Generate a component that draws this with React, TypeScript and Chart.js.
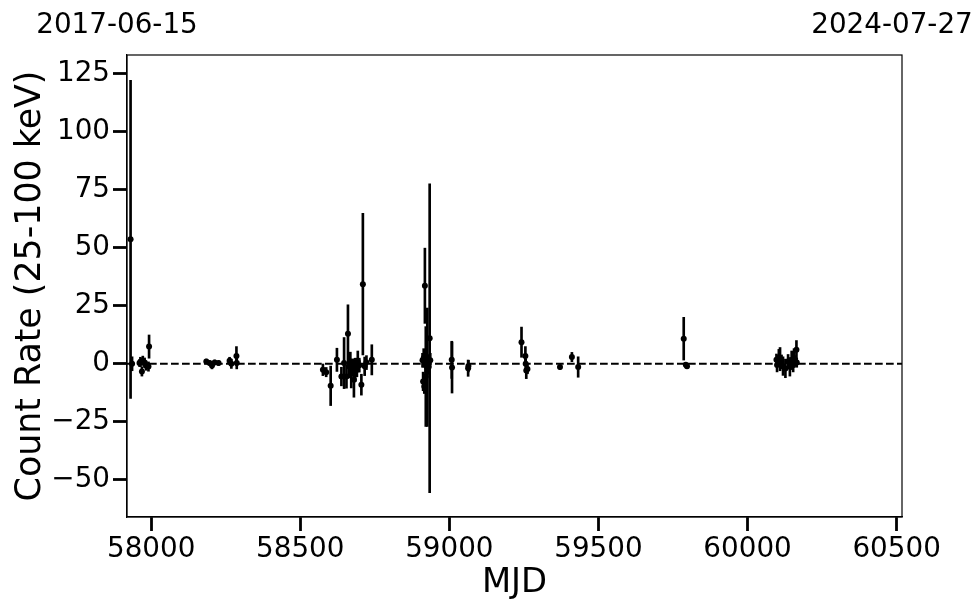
import React, { useEffect, useRef } from 'react';
import { Chart, registerables } from 'chart.js';

Chart.register(...registerables);

// Observation times (MJD)
const mjd = [
  57931, 57936, 57961, 57964, 57969, 57972, 57978, 57983, 57991, 57993,
  58185, 58196, 58204, 58213, 58226, 58263, 58269, 58286, 58287,
  58576, 58587, 58602, 58623, 58638, 58647, 58655, 58660, 58663, 58668, 58671,
  58676, 58680, 58684, 58690, 58693, 58698, 58705, 58710, 58716, 58722, 58740,
  58910, 58912, 58914, 58916, 58918, 58920, 58921, 58924, 58926, 58930, 58934, 58936,
  59008, 59009, 59063, 59064,
  59242, 59255, 59256, 59258, 59262,
  59371, 59411, 59432,
  59786, 59793, 59797,
  60097, 60099, 60105, 60109, 60114, 60119, 60127, 60136, 60142, 60148, 60153, 60156, 60164, 60165,
];

// Count rate (25-100 keV)
const rate = [
  53.6, 0.0, 0.3, 0.8, -3.3, 1.3, 0.5, -0.8, -1.2, 7.4,
  1.0, 0.3, -0.7, 0.6, 0.3, 1.3, 0.0, 3.4, 0.3,
  -2.6, -3.6, -9.5, 1.7, -5.5, 0.3, -5.5, 12.9, -1.1, 1.0, -4.4,
  -0.9, -6.9, -2.6, -1.6, 1.0, -0.6, -9.0, 34.3, -1.1, 0.5, 1.7,
  1.5, -7.6, 2.5, -9.8, 33.6, 0.3, -5.5, 3.0, -1.5, -1.6, 11.0, 1.5,
  1.7, -1.6, -1.9, -1.0,
  9.3, 3.4, 0.0, -2.9, -2.3,
  -1.4, 2.9, -1.4,
  10.8, -0.4, -1.1,
  1.7, -0.5, 2.7, 2.0, 0.8, -1.0, -2.0, 1.0, -1.3, 1.5, -0.5, 2.5, 6.0, 0.5,
];

// 1-sigma uncertainties
const rateErr = [
  68.5, 3.0, 1.5, 2.0, 2.0, 2.0, 2.0, 2.0, 2.0, 5.0,
  1.0, 1.0, 1.5, 1.0, 1.0, 1.5, 2.0, 4.0, 2.5,
  2.5, 2.0, 8.5, 5.0, 4.0, 11.0, 5.0, 12.5, 5.0, 4.0, 6.0,
  3.0, 7.5, 5.0, 4.0, 4.5, 3.0, 4.5, 30.5, 4.0, 3.0, 6.5,
  3.0, 4.0, 4.0, 3.0, 16.2, 5.0, 21.5, 6.0, 25.5, 3.0, 66.5, 3.0,
  8.0, 11.0, 3.5, 2.5,
  6.5, 4.0, 2.0, 3.5, 2.0,
  1.0, 2.0, 4.4,
  9.2, 1.0, 1.0,
  2.5, 3.0, 3.5, 5.0, 3.0, 4.0, 4.0, 3.0, 4.0, 4.0, 3.0, 4.0, 4.0, 2.0,
];

const xTicks = [58000, 58500, 59000, 59500, 60000, 60500];
const yTicks = [-50, -25, 0, 25, 50, 75, 100, 125];
const topTickMjd = [57919, 60518];
const topTickLabels = ['2017-06-15', '2024-07-27'];
const xMin = 57919;
const xMax = 60518;
const yMin = -66;
const yMax = 133;

const FONT = 'DejaVu Sans';

const framePlugin = {
  id: 'frame',
  afterDraw(chart: any) {
    const { ctx, chartArea } = chart;
    const { left, top, right, bottom } = chartArea;
    ctx.save();
    ctx.strokeStyle = '#000';
    ctx.lineWidth = 1.2;
    ctx.strokeRect(left, top, right - left, bottom - top);
    ctx.restore();
  },
};

const noPad = (s: any) => {
  s.paddingLeft = 0;
  s.paddingRight = 0;
  s.paddingTop = 0;
  s.paddingBottom = 0;
};

export default function App() {
  const canvasRef = useRef<HTMLCanvasElement | null>(null);

  useEffect(() => {
    if (!canvasRef.current) return;
    const errData = mjd.map((m, i) => ({ x: m, y: [rate[i] - rateErr[i], rate[i] + rateErr[i]] }));
    const ptData = mjd.map((m, i) => ({ x: m, y: rate[i] }));
    const zeroData = [
      { x: xMin, y: 0 },
      { x: xMax, y: 0 },
    ];

    const tickGrid = {
      display: true,
      drawOnChartArea: false,
      drawTicks: true,
      tickLength: 14,
      tickWidth: 2.8,
      tickColor: '#000',
      offset: false,
    };

    const chart = new Chart(canvasRef.current, {
      type: 'scatter',
      data: {
        datasets: [
          {
            type: 'line',
            data: zeroData,
            borderColor: '#000',
            borderWidth: 2,
            borderDash: [7.7, 3.3],
            pointRadius: 0,
            fill: false,
            order: 3,
            xAxisID: 'x',
            yAxisID: 'y',
          } as any,
          {
            type: 'bar',
            data: errData,
            backgroundColor: '#000',
            borderWidth: 0,
            barThickness: 2,
            order: 2,
            xAxisID: 'x',
            yAxisID: 'y',
          } as any,
          {
            type: 'scatter',
            data: ptData,
            backgroundColor: '#000',
            borderColor: '#000',
            borderWidth: 0,
            pointRadius: 3,
            showLine: false,
            order: 1,
            xAxisID: 'x',
            yAxisID: 'y',
          } as any,
        ],
      },
      options: {
        responsive: false,
        devicePixelRatio: 1,
        animation: false,
        layout: { padding: { left: 0, right: 78, top: 0, bottom: 0 } },
        plugins: {
          legend: { display: false },
          tooltip: { enabled: false },
        },
        scales: {
          x: {
            type: 'linear',
            position: 'bottom',
            min: xMin,
            max: xMax,
            offset: false,
            afterBuildTicks: (s: any) => {
              s.ticks = xTicks.map((v) => ({ value: v }));
            },
            afterFit: (s: any) => {
              s.height = 96;
              noPad(s);
            },
            ticks: {
              color: '#000',
              font: { family: FONT, size: 27.8 },
              padding: 2,
              maxRotation: 0,
              autoSkip: false,
              includeBounds: false,
              callback: (v: any) => String(v),
            },
            grid: tickGrid,
            border: { display: true, color: '#000', width: 1.2 },
            title: {
              display: true,
              text: 'MJD',
              color: '#000',
              font: { family: FONT, size: 33.8 },
              padding: { top: 0, bottom: 10 },
            },
          },
          xTop: {
            type: 'linear',
            position: 'top',
            min: xMin,
            max: xMax,
            offset: false,
            afterBuildTicks: (s: any) => {
              s.ticks = topTickMjd.map((v) => ({ value: v }));
            },
            afterFit: (s: any) => {
              s.height = 55;
              noPad(s);
            },
            ticks: {
              color: '#000',
              font: { family: FONT, size: 27.8 },
              padding: 13,
              labelOffset: -10,
              maxRotation: 0,
              autoSkip: false,
              callback: (_v: any, i: number) => topTickLabels[i],
            },
            grid: { display: false, drawTicks: false },
            border: { display: false },
          },
          y: {
            type: 'linear',
            position: 'left',
            min: yMin,
            max: yMax,
            afterBuildTicks: (s: any) => {
              s.ticks = yTicks.map((v) => ({ value: v }));
            },
            afterFit: (s: any) => {
              s.width = 127;
              noPad(s);
            },
            ticks: {
              color: '#000',
              font: { family: FONT, size: 27.8 },
              padding: 3,
              autoSkip: false,
              callback: (v: any) => (v < 0 ? '\u2212' + Math.abs(v) : String(v)),
            },
            grid: tickGrid,
            border: { display: true, color: '#000', width: 1.2 },
            title: {
              display: true,
              text: 'Count Rate (25-100 keV)',
              color: '#000',
              font: { family: FONT, size: 34.8 },
              padding: { top: 10, bottom: 0 },
            },
          },
        },
      } as any,
      plugins: [framePlugin],
    });

    return () => {
      chart.destroy();
    };
  }, []);

  return (
    <div style={{ position: 'absolute', left: 0, top: 0, width: 980, height: 613, background: '#fff' }}>
      <canvas ref={canvasRef} width={980} height={613} style={{ display: 'block' }} />
    </div>
  );
}
